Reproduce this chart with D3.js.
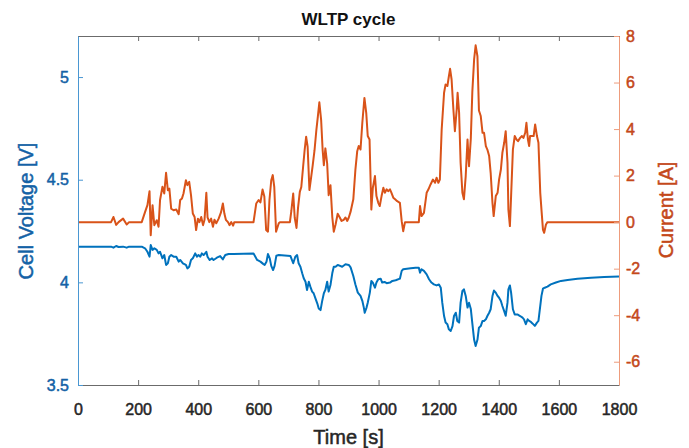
<!DOCTYPE html>
<html>
<head>
<meta charset="utf-8">
<script src="https://cdn.jsdelivr.net/npm/d3@7"></script>
<style>
  body { margin: 0; background: #fff; }
  svg { font-family: "Liberation Sans", Arial, sans-serif; }
  .tick text { font-size: 16px; }
</style>
</head>
<body>
<script>
// WLTP cycle
const xTicks = [0, 200, 400, 600, 800, 1000, 1200, 1400, 1600, 1800];
const voltTicks = [3.5, 4, 4.5, 5];
const currTicks = [-6, -4, -2, 0, 2, 4, 6, 8];

// current [A] vs time [s]
const currentT = [0,110,118,127,135,150,162,170,212,223,231,238,242,248,254,262,268,273,281,287,293,299,304,310,318,327,335,340,346,351,359,364,370,376,382,388,393,399,404,410,416,421,427,431,437,443,449,454,460,468,476,482,487,492,499,504,510,516,520,
  584,593,601,607,614,620,626,632,637,643,648,653,659,668,672,705,710,716,721,727,732,738,743,749,754,759,764,770,776,781,787,793,798,803,809,814,818,823,829,834,840,846,851,857,864,871,877,884,890,896,901,907,
  916,923,929,934,940,946,953,959,964,970,976,981,988,993,999,1004,1010,1016,1021,1027,1032,1038,1043,1049,1055,1062,1071,1077,1082,1088,1134,1138,1143,1151,1160,1166,1173,1181,1188,1193,1199,1204,
  1210,1218,1223,1229,1234,1238,1243,1249,1254,1260,1263,1268,1273,1279,1284,1290,1296,1301,1307,1312,1318,1323,1329,1334,1340,1346,1351,1357,1362,1368,1373,1379,1383,1390,1396,1401,1407,1412,1418,1423,1429,1432,1437,1441,1447,
  1453,1459,1464,1471,1477,1482,1488,1492,1497,1501,1504,1510,1516,1521,1527,1532,1538,1542,1547,1551,1557,1562,1800];
const currentA = [0,0,0.22,-0.12,0,0.15,-0.1,0,0,0.43,0.73,1.33,-0.56,0.73,-0.13,0.08,-0.2,0.95,1.52,1.23,2.12,1.37,1.44,0.58,0.51,0.54,0.34,0.95,1.02,1.23,1.8,1.59,1.73,1.16,0.37,0.22,-0.34,0.15,0,0.22,-0.13,0.1,1.26,0.2,0,0.15,-0.2,0.1,-0.05,0.15,0.43,0.8,0.37,0.1,0,-0.13,0,-0.15,0,
  0,0.8,0.95,0.85,1.4,1.1,-0.34,-0.41,0.95,1.8,2.02,1.52,-0.41,-0.05,0,0,0.5,1.23,0.2,-0.25,0.6,1.3,1.51,2.38,3.09,3.67,3.24,1.38,1.96,2.45,3.09,3.95,4.53,5.15,4.38,3.09,2.45,3.17,2.52,1.16,1.59,0.23,-0.41,-0.1,0.36,0.2,0.05,0.1,0.2,0.05,0.2,0.45,
  0.98,2.26,3.05,3.27,3.12,4.27,5.34,4.7,3.7,3.55,0.54,1.48,1.98,1.12,0.83,0.69,1.12,1.48,1.26,1.41,1.33,1.41,1.26,1.05,0.98,0.9,0.83,0.04,-0.39,0,0,0.69,0.26,0.4,1.26,1.41,1.62,1.83,1.69,1.91,1.69,1.83,
  3.98,5.56,5.92,5.85,6.27,6.59,6.13,4.84,3.91,4.84,5.56,4.7,2.55,1.26,0.98,1.98,3.55,2.4,3.6,5.6,7.0,7.6,7.13,4.8,4.56,3.84,3.84,3.27,3.12,2.84,2.12,0.83,0.26,1.12,1.26,1.83,2.26,2.98,3.41,3.91,2.55,0.54,-0.17,1.12,3.12,
  3.7,3.55,3.48,3.62,3.7,3.62,3.84,4.27,3.55,3.27,3.7,3.7,3.7,4.2,3.7,3.41,1.26,0.54,-0.32,-0.46,-0.1,0,0];

// cell voltage [V] vs time [s]
const voltageT = [0,110,118,127,135,150,162,170,212,223,231,238,242,248,254,262,268,273,281,287,293,299,304,310,318,327,335,340,349,359,364,370,376,382,390,396,401,407,412,418,427,431,438,446,451,462,473,482,490,501,518,
  584,596,607,616,621,627,632,638,643,649,654,660,668,707,716,723,729,734,740,746,751,757,762,768,773,779,784,790,796,801,807,812,818,823,829,834,840,846,851,857,864,879,890,901,907,
  916,923,931,940,946,951,954,960,964,971,976,981,988,993,999,1007,1012,1020,1027,1038,1046,1057,1071,1077,1082,1107,1123,1134,1138,1143,1151,1160,1168,1176,1184,1193,1201,1207,
  1212,1218,1223,1229,1234,1240,1246,1251,1257,1262,1268,1273,1279,1284,1290,1296,1301,1307,1312,1318,1323,1329,1334,1340,1346,1351,1357,1362,1368,1373,1379,1384,1390,1396,1401,1407,1412,1418,1423,1429,1432,1437,1441,1447,
  1453,1462,1471,1479,1484,1490,1496,1501,1507,1512,1520,1527,1532,1538,1542,1547,1553,1562,1573,1590,1607,1629,1662,1707,1751,1800];
const voltageV = [4.174,4.174,4.169,4.177,4.172,4.174,4.169,4.174,4.174,4.166,4.149,4.125,4.182,4.158,4.166,4.158,4.141,4.149,4.117,4.133,4.085,4.093,4.125,4.133,4.125,4.125,4.101,4.109,4.093,4.085,4.068,4.076,4.109,4.117,4.141,4.125,4.133,4.125,4.141,4.133,4.149,4.125,4.109,4.117,4.109,4.12,4.128,4.112,4.133,4.138,4.138,
  4.141,4.109,4.101,4.09,4.085,4.1,4.138,4.117,4.08,4.06,4.08,4.13,4.133,4.128,4.093,4.125,4.133,4.093,4.076,4.044,4.02,4.003,3.963,4.003,3.979,3.955,3.947,3.922,3.898,3.873,3.865,3.906,3.947,3.963,4.003,3.955,3.987,4.044,4.076,4.076,4.085,4.076,4.088,4.085,4.073,
  4.031,3.99,3.95,3.934,3.91,3.877,3.852,3.877,3.901,3.95,4.007,3.999,3.974,3.999,4.015,4.018,3.999,4.002,3.996,3.999,4.007,4.01,4.018,4.056,4.064,4.069,4.071,4.071,4.047,4.064,4.056,4.039,4.015,3.999,3.99,3.985,3.99,3.974,
  3.901,3.836,3.804,3.796,3.771,3.763,3.787,3.836,3.852,3.812,3.804,3.901,3.958,3.966,3.934,3.877,3.901,3.87,3.8,3.72,3.69,3.72,3.779,3.787,3.812,3.812,3.82,3.836,3.852,3.869,3.933,3.96,3.95,3.934,3.925,3.909,3.885,3.86,3.837,3.901,3.966,3.985,3.95,3.869,
  3.844,3.844,3.836,3.828,3.82,3.796,3.82,3.812,3.807,3.8,3.788,3.804,3.812,3.885,3.934,3.969,3.974,3.979,3.99,3.999,4.007,4.012,4.018,4.023,4.026,4.028];

const W = 689, H = 448;
const margin = {top: 36, right: 70, bottom: 63, left: 78};

const blue = '#0072BD', orange = '#D95319';

const svg = d3.select('body').append('svg')
    .attr('width', W)
    .attr('height', H);

const x = d3.scaleLinear().domain([0, 1800]).range([margin.left, W - margin.right]);
const yV = d3.scaleLinear().domain([3.5, 5.2]).range([H - margin.bottom, margin.top]);
const yI = d3.scaleLinear().domain([-7, 8]).range([H - margin.bottom, margin.top]);

// series
const lineI = d3.line().x(d => x(d[0])).y(d => yI(d[1]));
const lineV = d3.line().x(d => x(d[0])).y(d => yV(d[1]));

svg.append('path')
    .datum(currentT.map((t, i) => [t, currentA[i]]))
    .attr('fill', 'none')
    .attr('stroke', orange)
    .attr('stroke-width', 2)
    .attr('stroke-linejoin', 'round')
    .attr('d', lineI);

svg.append('path')
    .datum(voltageT.map((t, i) => [t, voltageV[i]]))
    .attr('fill', 'none')
    .attr('stroke', blue)
    .attr('stroke-width', 2)
    .attr('stroke-linejoin', 'round')
    .attr('d', lineV);

// axes, ticks pointing inward like matlab
const gTop = svg.append('g')
    .attr('transform', `translate(0,${margin.top})`)
    .call(d3.axisTop(x).tickValues(xTicks).tickSizeInner(-5).tickSizeOuter(0).tickFormat(''));

const gBottom = svg.append('g')
    .attr('transform', `translate(0,${H - margin.bottom})`)
    .call(d3.axisBottom(x).tickValues(xTicks).tickSizeInner(-5).tickSizeOuter(0).tickPadding(19).tickFormat(d => String(d)));

[gTop, gBottom].forEach(g => {
    g.select('.domain').attr('stroke', '#6b6b6b');
    g.selectAll('.tick line').attr('stroke', '#6b6b6b');
    g.selectAll('.tick text').attr('fill', '#262626').attr('stroke', '#262626');
});

const gLeft = svg.append('g')
    .attr('transform', `translate(${margin.left},0)`)
    .call(d3.axisLeft(yV).tickValues(voltTicks).tickSizeInner(-5).tickSizeOuter(0).tickPadding(9).tickFormat(d => String(d)));
gLeft.select('.domain').attr('stroke', '#4a97d2');
gLeft.selectAll('.tick line').attr('stroke', '#4a97d2');
gLeft.selectAll('.tick text').attr('fill', '#1462a6').attr('stroke', '#1462a6');

const gRight = svg.append('g')
    .attr('transform', `translate(${W - margin.right},0)`)
    .call(d3.axisRight(yI).tickValues(currTicks).tickSizeInner(-5).tickSizeOuter(0).tickPadding(7).tickFormat(d => String(d)));
gRight.select('.domain').attr('stroke', '#ee9c7c');
gRight.selectAll('.tick line').attr('stroke', '#ee9c7c');
gRight.selectAll('.tick text').attr('fill', '#c4481a').attr('stroke', '#c4481a');

// matlab text looks heavier than plain svg text
svg.selectAll('.tick text')
    .attr('font-size', 16)
    .attr('font-family', '"Liberation Sans", Arial, sans-serif')
    .attr('stroke-width', 0.5);

// labels
svg.append('text')
    .attr('x', (margin.left + W - margin.right) / 2)
    .attr('y', 25)
    .attr('text-anchor', 'middle')
    .attr('font-size', 17)
    .attr('font-weight', 'bold')
    .attr('fill', '#111')
    .text('WLTP cycle');

svg.append('text')
    .attr('x', (margin.left + W - margin.right) / 2)
    .attr('y', 444)
    .attr('text-anchor', 'middle')
    .attr('font-size', 20)
    .attr('fill', '#262626')
    .attr('stroke', '#262626')
    .attr('stroke-width', 0.5)
    .text('Time [s]');

svg.append('text')
    .attr('transform', 'translate(33,211) rotate(-90)')
    .attr('text-anchor', 'middle')
    .attr('font-size', 20)
    .attr('fill', '#1462a6')
    .attr('stroke', '#1462a6')
    .attr('stroke-width', 0.5)
    .text('Cell Voltage [V]');

svg.append('text')
    .attr('transform', 'translate(673,210) rotate(-90)')
    .attr('text-anchor', 'middle')
    .attr('font-size', 20)
    .attr('fill', '#c4481a')
    .attr('stroke', '#c4481a')
    .attr('stroke-width', 0.5)
    .text('Current [A]');
</script>
</body>
</html>
